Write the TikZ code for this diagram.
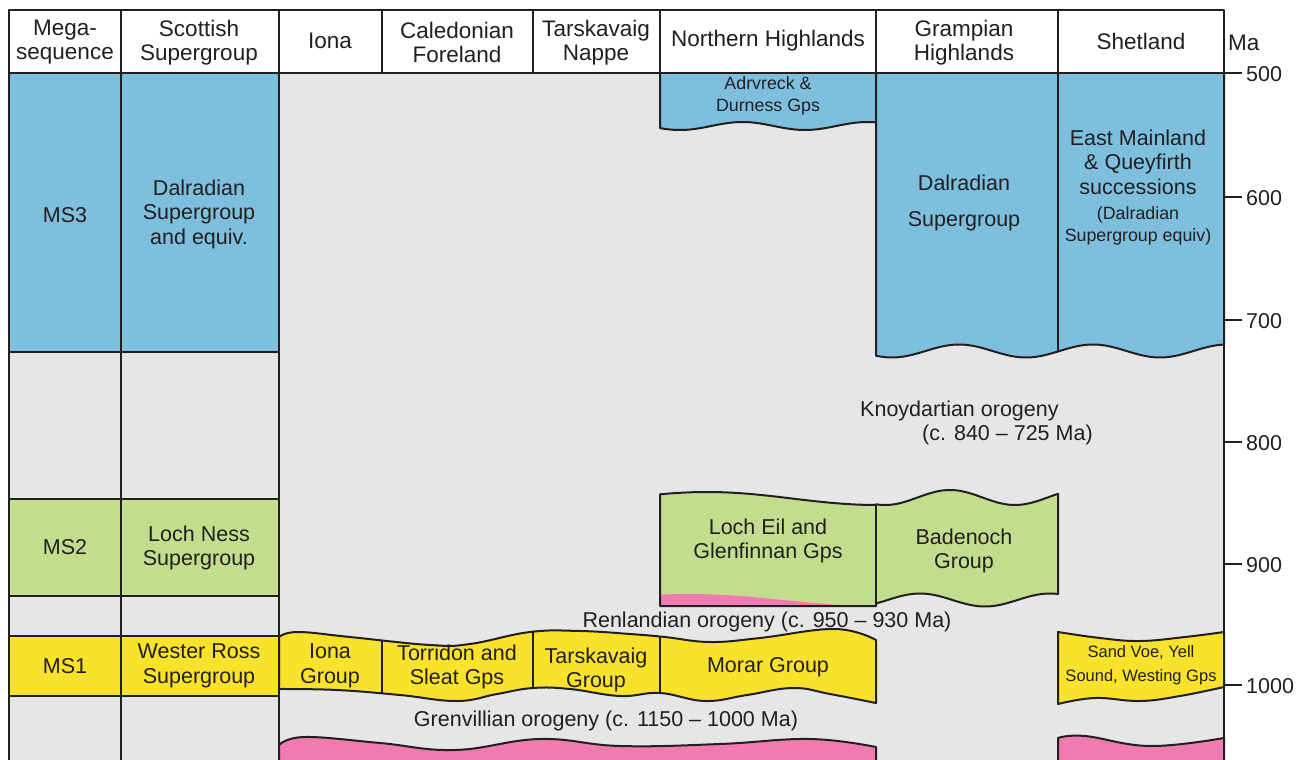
\documentclass[tikz,border=0pt]{standalone}
\usepackage{fontspec}
\setmainfont{Liberation Sans}
\definecolor{lc}{HTML}{231F20}
\definecolor{blu}{HTML}{7DBFDD}
\definecolor{grn}{HTML}{C2DD8E}
\definecolor{yel}{HTML}{F9E22B}
\definecolor{pnk}{HTML}{F07BB0}
\definecolor{bgc}{HTML}{E6E6E6}
\begin{document}
\begin{tikzpicture}[x=1pt,y=-1pt,line join=round,
  frame/.style={draw=lc,line width=2.6pt},
  unit/.style={draw=lc,line width=2pt},
  txt/.style={text=lc,align=center,inner sep=0pt,font=\fontsize{21.5}{24.5}\selectfont},
  hdr/.style={text=lc,align=center,inner sep=0pt,font=\fontsize{22.5}{24}\selectfont},
  sml/.style={text=lc,align=center,inner sep=0pt,font=\fontsize{17.8}{22}\selectfont},
  smlb/.style={text=lc,align=center,inner sep=0pt,font=\fontsize{16.5}{24}\selectfont},
  lbl/.style={text=lc,anchor=west,inner sep=0pt,font=\fontsize{21.5}{24}\selectfont}]
\useasboundingbox (0,0) rectangle (1299,760);
\fill[white] (0,0) rectangle (1299,760);
\fill[bgc] (9,73) rectangle (1224,760);
% left columns
\fill[blu] (9,73) rectangle (279,352);
\fill[grn] (9,499) rectangle (279,596);
\fill[yel] (9,636) rectangle (279,696);
% Adrvreck & Durness
\path[unit,fill=blu] (660,73) -- plot[domain=660:876,samples=60] (\x,{126+4*cos((\x-680)*2.88)}) -- (876,73);
% Grampian + Shetland Dalradian
\path[unit,fill=blu] (876,73) -- plot[domain=876:1224,samples=90] (\x,{351+6.5*cos((\x-1160)*2.687)}) -- (1224,73);
\draw[unit] (1058,73) -- (1058,{351+6.5*cos((1058-1160)*2.687)});
% Loch Eil + Badenoch
\path[fill=grn] plot[domain=660:876,samples=50] (\x,{498.5-6.5*cos((\x-707)*1.0588)})
  -- plot[domain=876:1058,samples=50] (\x,{497.5-7.5*cos((\x-950)*2.77)})
  -- plot[domain=1058:876,samples=50] (\x,{600+6.5*cos((\x-985)*2.77)})
  -- (876,606) -- (660,606) -- cycle;
\fill[pnk] plot[domain=660:876,samples=50] (\x,{600-6*cos((\x-690)*0.9677)}) -- (876,606) -- (660,606) -- cycle;
\draw[unit] plot[domain=660:876,samples=50] (\x,{498.5-6.5*cos((\x-707)*1.0588)})
  -- plot[domain=876:1058,samples=50] (\x,{497.5-7.5*cos((\x-950)*2.77)})
  -- plot[domain=1058:876,samples=50] (\x,{600+6.5*cos((\x-985)*2.77)})
  -- (876,606) -- (660,606) -- cycle;
\draw[unit] (876,505) -- (876,606);
% MS1 band
\def\msone{plot[smooth,tension=0.7] coordinates {(279,637) (298,632) (350,637) (430,645) (470,644) (530,632) (580,631) (630,634) (665,637) (710,642) (760,638) (835,629) (876,640)}
  -- plot[smooth,tension=0.7] coordinates {(876,703) (830,694) (793,688) (747,695) (705,701) (660,693) (620,696) (570,689) (533,688) (497,694) (457,701) (400,695) (337,690) (279,689)} -- cycle}
\fill[yel] \msone;
\begin{scope}
\clip \msone;
\foreach \xx in {382,533,660} {\draw[unit] (\xx,600) -- (\xx,720);}
\end{scope}
\draw[unit] \msone;
% Shetland yellow
\path[unit,fill=yel] plot[smooth,tension=0.7] coordinates {(1058,632) (1100,638) (1140,641) (1185,637) (1224,632)}
  -- plot[smooth,tension=0.7] coordinates {(1224,687) (1180,696) (1140,701) (1095,698) (1058,704)} -- cycle;
% pink Grenvillian
\path[unit,fill=pnk] (279,760) -- plot[smooth,tension=0.7] coordinates {(279,745) (305,737) (380,743) (455,750) (540,739) (620,746) (720,744) (810,739) (876,747)} -- (876,760);
\path[unit,fill=pnk] (1058,760) -- plot[smooth,tension=0.7] coordinates {(1058,738) (1085,736) (1150,746) (1224,738)} -- (1224,760);
% frame
\draw[frame] (9,760) -- (9,10) -- (1224,10) -- (1224,760);
\draw[frame] (121,10) -- (121,760);
\draw[frame] (279,10) -- (279,760);
\draw[frame] (9,73) -- (1224,73);
\foreach \xx in {382,533,660,876,1058} {\draw[frame] (\xx,10) -- (\xx,73);}
\foreach \yy in {352,499,596,636,696} {\draw[frame] (9,\yy) -- (279,\yy);}
% ticks
\foreach \m/\yy in {500/73,600/197,700/320,800/442,900/564,1000/685} {
  \draw[frame] (1224,\yy) -- (1242,\yy);
  \node[lbl] (t\m) at (1246,\yy+1) {\m};
}
% header
\node[hdr] (h1) at (65,42.5) {Mega-\\sequence};
\node[hdr] (h2) at (199,42.5) {Scottish\\Supergroup};
\node[hdr] (h3) at (330,41) {Iona};
\node[hdr] (h4) at (457,42.5) {Caledonian\\Foreland};
\node[hdr] (h5) at (596,42.5) {Tarskavaig\\Nappe};
\node[hdr] (h6) at (768,41) {Northern Highlands};
\node[hdr] (h7) at (964,42.5) {Grampian\\Highlands};
\node[hdr] (h8) at (1141,41) {Shetland};
\node[hdr,anchor=west] (ma) at (1228,43) {Ma};
% left column text
\node[txt] (ms3) at (65,215) {MS3};
\node[txt] (dal) at (199,214) {Dalradian\\Supergroup\\and equiv.};
\node[txt] (ms2) at (65,547) {MS2};
\node[txt] (lns) at (199,548) {Loch Ness\\Supergroup};
\node[txt] (ms1) at (65,666) {MS1};
\node[txt] (wrs) at (199,666) {Wester Ross\\Supergroup};
% unit text
\node[sml] (adr) at (768,96) {Adrvreck \&\\Durness Gps};
\node[txt] (gdal) at (964,203) {Dalradian\\[11pt]Supergroup};
\node[txt] (eml) at (1138,162) {East Mainland\\\& Queyfirth\\successions};
\node[sml] (eml2) at (1138,226) {(Dalradian\\Supergroup equiv)};
\node[txt,anchor=west] (kn1) at (860,411) {Knoydartian orogeny};
\node[txt,anchor=west] (kn2) at (922,435) {(c. 840 \textendash{} 725 Ma)};
\node[txt] (le) at (768,541) {Loch Eil and\\Glenfinnan Gps};
\node[txt] (bad) at (964,551) {Badenoch\\Group};
\node[txt] (ren) at (767,622) {Renlandian orogeny (c. 950 \textendash{} 930 Ma)};
\node[txt] (iona) at (330,666) {Iona\\Group};
\node[txt] (tor) at (457,667) {Torridon and\\Sleat Gps};
\node[txt] (tar) at (596,670) {Tarskavaig\\Group};
\node[txt] (mor) at (768,667) {Morar Group};
\node[smlb] (sv) at (1141,665) {Sand Voe, Yell\\Sound, Westing Gps};
\node[txt] (gren) at (606,721) {Grenvillian orogeny (c. 1150 \textendash{} 1000 Ma)};
\end{tikzpicture}
\end{document}
